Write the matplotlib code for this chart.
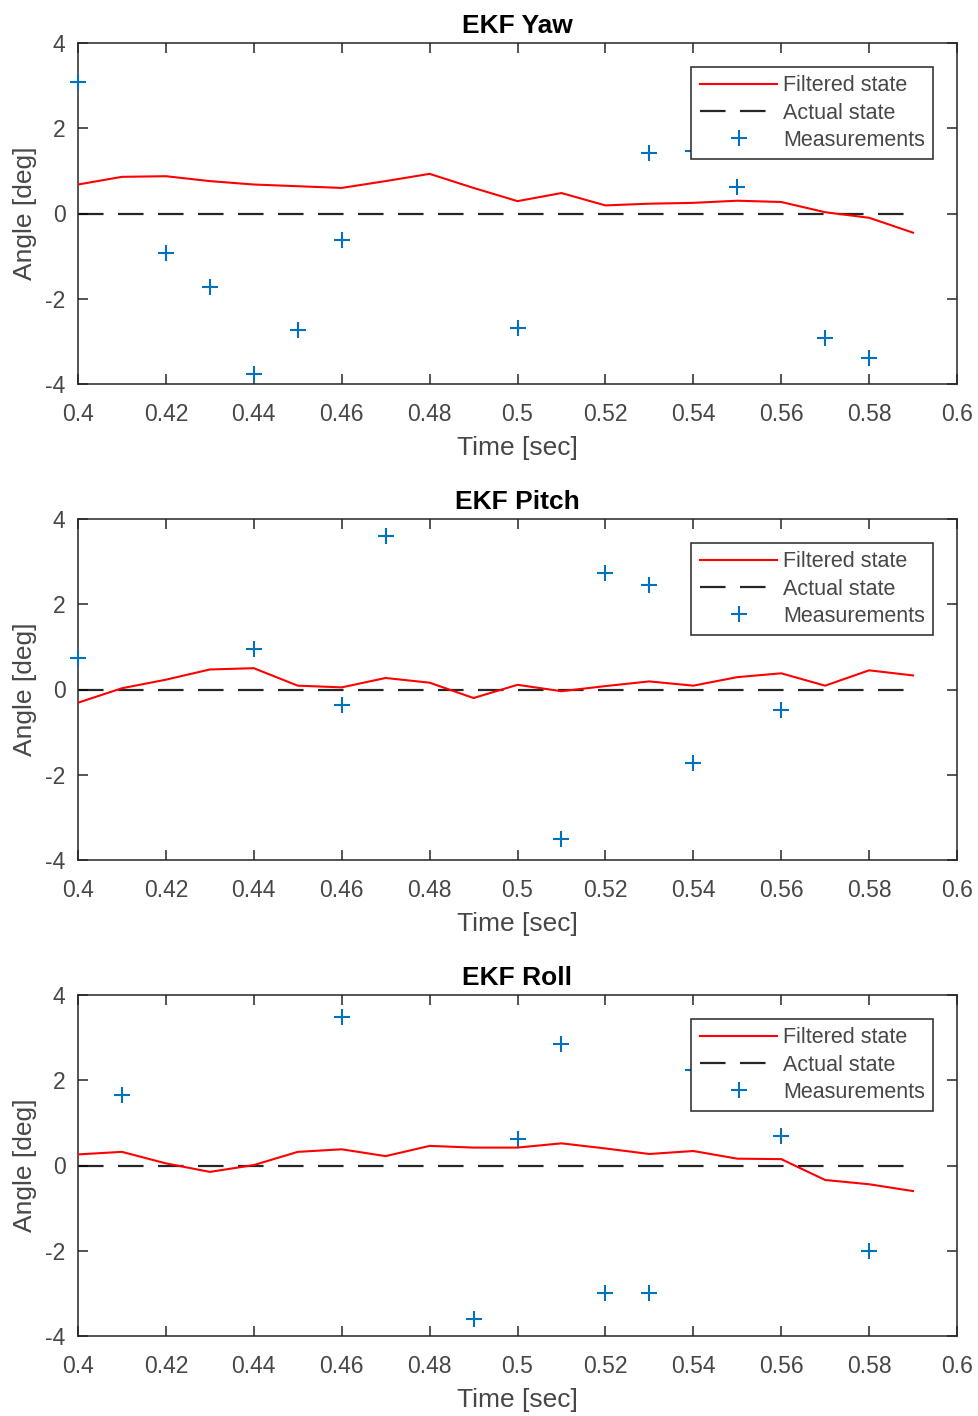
import matplotlib
matplotlib.use("Agg")
import matplotlib.pyplot as plt
import numpy as np

plt.rcParams['font.family'] = ['Liberation Sans', 'DejaVu Sans']
plt.rcParams['axes.unicode_minus'] = False

time = np.round(np.arange(0.40, 0.595, 0.01), 2)
nan = np.nan

yaw_filtered = [0.68, 0.86, 0.875, 0.76, 0.68, 0.64, 0.60, 0.76, 0.93, 0.60,
                0.29, 0.48, 0.19, 0.23, 0.25, 0.30, 0.27, 0.03, -0.10, -0.45]
yaw_meas = [3.09, nan, -0.92, -1.72, -3.77, -2.74, -0.63, nan, nan, nan,
            -2.68, nan, nan, 1.42, 1.47, 0.63, nan, -2.91, -3.38, nan]

pitch_filtered = [-0.31, 0.03, 0.23, 0.47, 0.50, 0.09, 0.05, 0.27, 0.16, -0.20,
                  0.11, -0.04, 0.08, 0.19, 0.09, 0.29, 0.38, 0.09, 0.45, 0.33]
pitch_meas = [0.73, nan, nan, nan, 0.95, nan, -0.36, 3.59, nan, nan,
              nan, -3.50, 2.73, 2.44, -1.73, nan, -0.48, nan, nan, nan]

roll_filtered = [0.26, 0.32, 0.05, -0.15, 0.01, 0.32, 0.38, 0.22, 0.46, 0.42,
                 0.42, 0.52, 0.40, 0.27, 0.34, 0.16, 0.15, -0.34, -0.44, -0.60]
roll_meas = [nan, 1.65, nan, nan, nan, nan, 3.48, nan, nan, -3.61,
             0.61, 2.86, -2.98, -2.98, 2.23, nan, 0.69, nan, -2.00, nan]

titles = ['EKF Yaw', 'EKF Pitch', 'EKF Roll']
filtered = [yaw_filtered, pitch_filtered, roll_filtered]
measured = [yaw_meas, pitch_meas, roll_meas]

W, H = 979, 1416
fig = plt.figure(figsize=(W / 100, H / 100), dpi=100)
axis_color = (0.15, 0.15, 0.15)
tick_color = (0.28, 0.28, 0.28)

tops = [43, 519, 995]
for k in range(3):
    left, right, top, bottom = 78, 957, tops[k], tops[k] + 341
    ax = fig.add_axes([left / W, 1 - bottom / H, (right - left) / W, (bottom - top) / H])

    ax.plot(time, filtered[k], color='#FF0000', lw=1.5, label='Filtered state', zorder=3)
    ax.plot(time, np.zeros_like(time), color='black', lw=1.6, alpha=0.85,
            dashes=(11.5, 6.5), label='Actual state', zorder=2)
    ax.plot(time, measured[k], ls='none', marker='+', ms=12, mew=1.5,
            color='#0072BD', label='Measurements', zorder=4, clip_on=False)

    ax.set_xlim(0.4, 0.6)
    ax.set_ylim(-4, 4)
    ax.set_xticks(np.round(np.arange(0.40, 0.601, 0.02), 2))
    ax.set_xticklabels(['0.4', '0.42', '0.44', '0.46', '0.48', '0.5',
                        '0.52', '0.54', '0.56', '0.58', '0.6'])
    ax.set_yticks([-4, -2, 0, 2, 4])
    ax.tick_params(direction='in', length=7, width=1.1, top=True, right=True,
                   labelsize=16.5, colors=axis_color, labelcolor=tick_color)
    ax.tick_params(axis='x', pad=14)
    ax.tick_params(axis='y', pad=9)
    for s in ax.spines.values():
        s.set_color(axis_color)
        s.set_linewidth(1.1)

    ax.set_title(titles[k], fontsize=19, fontweight='bold', pad=7)
    ax.set_xlabel('Time [sec]', fontsize=19, color=tick_color, labelpad=7)
    ax.set_ylabel('Angle [deg]', fontsize=19, color=tick_color, labelpad=6)

    leg = ax.legend(loc='upper right', bbox_to_anchor=(0.973, 0.93), borderaxespad=0,
                    fontsize=15.5, handlelength=3.6, handletextpad=0.25,
                    labelspacing=0.28, borderpad=0.4, fancybox=False, framealpha=1)
    leg.get_frame().set_edgecolor(axis_color)
    leg.get_frame().set_linewidth(1.1)
    leg.set_zorder(10)
    for t in leg.get_texts():
        t.set_color(tick_color)

fig.savefig('out.png', dpi=100)
